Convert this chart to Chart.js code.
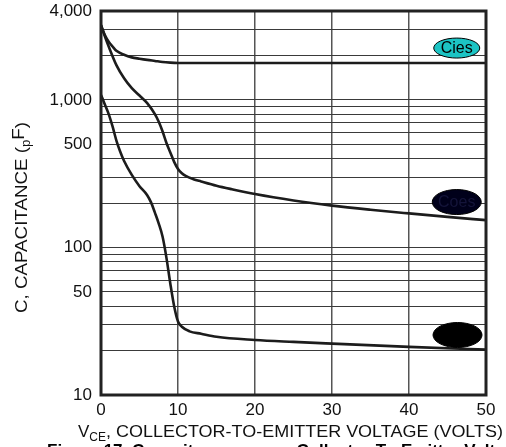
<!DOCTYPE html>
<html>
<head>
<meta charset="utf-8">
<script src="https://cdn.jsdelivr.net/npm/chart.js@4/dist/chart.umd.min.js"></script>
<style>
    body { margin: 0; background: #fff; }
    #wrap { width: 506px; height: 447px; overflow: hidden; }
</style>
</head>
<body>
<div id="wrap"><canvas id="capChart" width="506" height="447"></canvas></div>
<script>
// Curve data (V_CE in volts, capacitance in pF)
const ciesVolts = [0, 0.5, 1, 1.5, 2, 3, 4, 5, 6, 7, 8, 9, 10, 12, 15, 20, 30, 40, 50];
const ciesPf = [3200, 2750, 2480, 2300, 2150, 2020, 1940, 1900, 1865, 1835, 1805, 1788, 1778, 1775, 1775, 1775, 1775, 1775, 1775];

const coesVolts = [0, 0.5, 1, 2, 3, 4, 5, 6, 7, 7.5, 8, 8.5, 9, 9.5, 10, 10.5, 11, 12, 13, 15, 17, 20, 25, 30, 35, 40, 45, 50];
const coesPf = [3200, 2700, 2300, 1720, 1400, 1200, 1070, 950, 800, 710, 610, 510, 440, 380, 340, 318, 305, 290, 280, 262, 248, 230, 208, 192, 180, 170, 161, 153];

const cresVolts = [0, 0.5, 1, 1.5, 2, 2.5, 3, 4, 5, 6, 6.5, 7, 7.5, 8, 8.5, 9, 9.5, 10, 10.5, 11.5, 13, 15, 20, 25, 30, 40, 50];
const cresPf = [1080, 930, 800, 660, 530, 445, 385, 310, 260, 226, 202, 172, 145, 118, 85, 57, 40, 31.5, 29, 27, 26, 24.8, 23.6, 22.9, 22.3, 21.2, 20.3];

// Axis ticks
const xTicks = [0, 10, 20, 30, 40, 50];
const yTickLabels = [10, 50, 100, 500, 1000, 4000];
const yGridDecades = [10, 100, 1000];

// Curve labels (placed in data units)
const curveLabels = ['Cies', 'Coes', 'Cres'];
const labelVolts = [46.2, 46.2, 46.3];
const labelPf = [2244, 203, 25.5];

const FONT = '"Liberation Sans", Arial, Helvetica, sans-serif';

function toPoints(xs, ys) {
    return xs.map((x, i) => ({ x: x, y: ys[i] }));
}

// log grid: 1..9 per decade, up to 4000
const yGrid = [];
yGridDecades.forEach(d => {
    for (let m = 1; m <= 9; m++) {
        if (d * m <= 4000) yGrid.push(d * m);
    }
});

// Frame, titles, curve labels and caption
const decorPlugin = {
    id: 'decor',
    afterDraw(chart) {
        const ctx = chart.ctx;
        const a = chart.chartArea;
        const xs = chart.scales.x;
        const ys = chart.scales.y;
        ctx.save();

        // heavy frame
        ctx.strokeStyle = '#222';
        ctx.lineWidth = 3;
        ctx.strokeRect(a.left, a.top, a.right - a.left, a.bottom - a.top);

        // x title with subscript
        ctx.fillStyle = '#111';
        ctx.textBaseline = 'alphabetic';
        ctx.textAlign = 'left';
        let x = 78;
        const base = 437;
        ctx.font = '17px ' + FONT;
        ctx.fillText('V', x, base);
        x += ctx.measureText('V').width;
        ctx.font = '12px ' + FONT;
        ctx.fillText('CE', x, base + 4);
        x += ctx.measureText('CE').width;
        ctx.font = '17px ' + FONT;
        const rest = ', COLLECTOR-TO-EMITTER VOLTAGE (VOLTS)';
        const restW = ctx.measureText(rest).width;
        const want = 503 - x;
        ctx.save();
        ctx.translate(x, base);
        ctx.scale(want / restW, 1);
        ctx.fillText(rest, 0, 0);
        ctx.restore();

        // y title, rotated, with p subscript / F raised
        ctx.save();
        ctx.translate(26.5, 313);
        ctx.rotate(-Math.PI / 2);
        ctx.font = '17px ' + FONT;
        const yt = 'C, CAPACITANCE (';
        let total = ctx.measureText(yt + 'F)').width;
        ctx.font = '12px ' + FONT;
        total += ctx.measureText('p').width;
        ctx.scale(191 / total, 1);
        let t = 0;
        ctx.font = '17px ' + FONT;
        ctx.fillText(yt, t, 0);
        t += ctx.measureText(yt).width;
        ctx.font = '12px ' + FONT;
        ctx.fillText('p', t, 3);
        t += ctx.measureText('p').width;
        ctx.font = '17px ' + FONT;
        ctx.fillText('F', t, -3);
        t += ctx.measureText('F').width;
        ctx.fillText(')', t, 0);
        ctx.restore();

        // curve label ellipses
        const fills = ['#1cc4c4', '#00001a', '#000000'];
        const textCols = ['#000', '#14143a', '#000'];
        curveLabels.forEach((lab, i) => {
            const cx = xs.getPixelForValue(labelVolts[i]);
            const cy = ys.getPixelForValue(labelPf[i]);
            const rx = i === 0 ? 23 : 24.5;
            const ry = i === 0 ? 10 : 12.5;
            ctx.beginPath();
            ctx.ellipse(cx, cy, rx, ry, 0, 0, Math.PI * 2);
            ctx.fillStyle = fills[i];
            ctx.fill();
            ctx.lineWidth = 1;
            ctx.strokeStyle = '#000';
            ctx.stroke();
            ctx.fillStyle = textCols[i];
            ctx.font = '16px ' + FONT;
            ctx.textAlign = 'center';
            ctx.textBaseline = 'middle';
            ctx.fillText(lab, cx, cy + 1);
        });

        // figure caption, cut off by the window edge
        ctx.textAlign = 'left';
        ctx.textBaseline = 'alphabetic';
        ctx.fillStyle = '#000';
        ctx.font = 'bold 17px ' + FONT;
        ctx.fillText('Figure 17. Capacitance versus Collector-To-Emitter Voltage', 47, 456);

        ctx.restore();
    }
};

function makeLine(label, xs, ys) {
    return {
        label: label,
        data: toPoints(xs, ys),
        borderColor: '#1c1c1c',
        borderWidth: 2.6,
        pointRadius: 0,
        fill: false,
        cubicInterpolationMode: 'monotone'
    };
}

const ctx = document.getElementById('capChart').getContext('2d');
new Chart(ctx, {
    type: 'line',
    data: {
        datasets: [
            makeLine('Cies', ciesVolts, ciesPf),
            makeLine('Coes', coesVolts, coesPf),
            makeLine('Cres', cresVolts, cresPf)
        ]
    },
    options: {
        responsive: false,
        animation: false,
        layout: { padding: { top: 11, right: 20, left: 0, bottom: 0 } },
        plugins: {
            legend: { display: false },
            tooltip: { enabled: false }
        },
        scales: {
            x: {
                type: 'linear',
                min: 0,
                max: 50,
                afterBuildTicks: (scale) => {
                    scale.ticks = xTicks.map(v => ({ value: v }));
                },
                afterFit: (scale) => {
                    scale.height = 52;
                    scale.paddingLeft = 0;
                    scale.paddingRight = 0;
                },
                grid: { color: '#555', lineWidth: 1.5, drawTicks: false },
                border: { display: false },
                ticks: {
                    color: '#111',
                    padding: 5,
                    maxRotation: 0,
                    font: { family: FONT, size: 17 }
                }
            },
            y: {
                type: 'logarithmic',
                min: 10,
                max: 4000,
                afterBuildTicks: (scale) => {
                    scale.ticks = yGrid.map(v => ({ value: v }));
                },
                afterFit: (scale) => {
                    scale.width = 101;
                    scale.paddingTop = 0;
                    scale.paddingBottom = 0;
                },
                grid: { color: '#3a3a3a', lineWidth: 1, drawTicks: false },
                border: { display: false },
                ticks: {
                    autoSkip: false,
                    color: '#111',
                    padding: 9,
                    font: { family: FONT, size: 17 },
                    callback: (v) => yTickLabels.includes(v) ? v.toLocaleString('en-US') : ''
                }
            }
        }
    },
    plugins: [decorPlugin]
});
</script>
</body>
</html>
